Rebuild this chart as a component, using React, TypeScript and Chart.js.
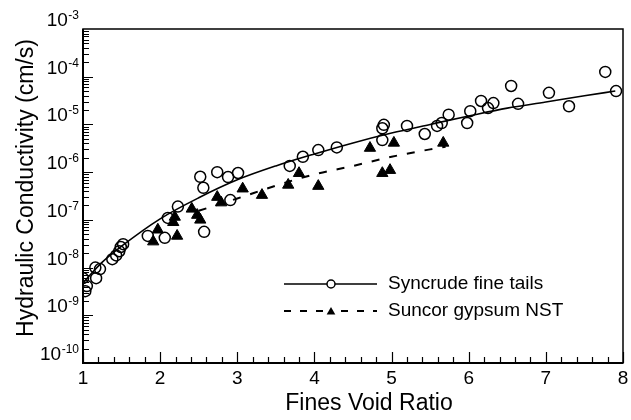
import React, { useEffect, useRef } from "react";
import { Chart, registerables } from "chart.js";

Chart.register(...registerables);

// Syncrude fine tails: measured points
const syncrudeVoidRatio = [
  1.0, 1.05, 1.03, 1.17, 1.16, 1.22, 1.38, 1.43, 1.47, 1.49, 1.52,
  1.84, 2.06, 2.1, 2.23, 2.57, 2.52, 2.56, 2.74, 2.88, 3.01, 2.91,
  3.68, 3.85, 4.05, 4.29, 4.88, 4.9, 4.88, 5.2, 5.43, 5.59, 5.65, 5.74,
  5.98, 6.02, 6.16, 6.25, 6.32, 6.55, 6.64, 7.04, 7.3, 7.77, 7.91,
];
const syncrudeConductivity = [
  6.0e-9, 4.1e-9, 3.2e-9, 6.0e-9, 1.0e-8, 9.3e-9, 1.5e-8, 1.8e-8, 2.2e-8, 2.7e-8, 3.1e-8,
  4.6e-8, 4.2e-8, 1.1e-7, 1.9e-7, 5.6e-8, 8.0e-7, 4.7e-7, 1.0e-6, 7.9e-7, 9.6e-7, 2.6e-7,
  1.35e-6, 2.1e-6, 2.9e-6, 3.3e-6, 8.3e-6, 9.8e-6, 4.7e-6, 9.3e-6, 6.3e-6, 9.3e-6, 1.07e-5, 1.6e-5,
  1.07e-5, 1.9e-5, 3.1e-5, 2.2e-5, 2.8e-5, 6.4e-5, 2.7e-5, 4.6e-5, 2.4e-5, 1.26e-4, 5.0e-5,
];

// Suncor gypsum NST: measured points
const suncorVoidRatio = [
  1.91, 1.97, 2.22, 2.17, 2.19, 2.41, 2.48, 2.52, 2.74, 2.79,
  3.07, 3.32, 3.66, 3.8, 4.05, 4.72, 4.88, 4.98, 5.03, 5.67,
];
const suncorConductivity = [
  3.5e-8, 6.2e-8, 4.6e-8, 8.9e-8, 1.15e-7, 1.7e-7, 1.26e-7, 1.0e-7, 3.0e-7, 2.3e-7,
  4.5e-7, 3.3e-7, 5.4e-7, 9.5e-7, 5.1e-7, 3.2e-6, 9.5e-7, 1.1e-6, 4.1e-6, 4.1e-6,
];

// Trend curves
const syncrudeFitVoidRatio = [1.0, 1.25, 1.5, 2.0, 2.5, 3.0, 3.5, 4.0, 4.5, 5.0, 5.5, 6.0, 6.5, 7.0, 7.5, 7.9];
const syncrudeFitConductivity = [
  4.8e-9, 1.3e-8, 2.8e-8, 1.05e-7, 2.9e-7, 6.9e-7, 1.35e-6, 2.4e-6,
  4.1e-6, 6.6e-6, 1.0e-5, 1.5e-5, 2.2e-5, 2.95e-5, 4.0e-5, 5.0e-5,
];
const suncorFitVoidRatio = [2.5, 3.0, 3.5, 4.0, 4.5, 5.0, 5.5, 5.7];
const suncorFitConductivity = [1.55e-7, 2.8e-7, 5.2e-7, 9.0e-7, 1.35e-6, 2.1e-6, 3.0e-6, 3.4e-6];

// Axis ticks
const xTickLabels = [1, 2, 3, 4, 5, 6, 7, 8];
const yDecadeExponents = [-10, -9, -8, -7, -6, -5, -4, -3];

const seriesNames = ["Syncrude fine tails", "Suncor gypsum NST"];
const axisTitles = { x: "Fines Void Ratio", y: "Hydraulic Conductivity (cm/s)" };

const FONT = '"Liberation Sans", Arial, Helvetica, sans-serif';

const toPoints = (xs: number[], ys: number[]) => xs.map((x, i) => ({ x, y: ys[i] }));

function drawTriangle(ctx: CanvasRenderingContext2D, cx: number, cy: number, r: number) {
  ctx.beginPath();
  for (let k = 0; k < 3; k++) {
    const a = (k * 2 * Math.PI) / 3;
    const px = cx + Math.sin(a) * r;
    const py = cy - Math.cos(a) * r;
    if (k === 0) ctx.moveTo(px, py);
    else ctx.lineTo(px, py);
  }
  ctx.closePath();
  ctx.fill();
}

const axesDecor = {
  id: "axesDecor",
  afterDraw(chart: any) {
    const { ctx, chartArea: a, scales } = chart;
    const xs = scales.x;
    const ys = scales.y;
    ctx.save();
    ctx.strokeStyle = "#000";
    ctx.fillStyle = "#000";

    // frame
    ctx.lineWidth = 1.5;
    ctx.strokeRect(a.left, a.top, a.right - a.left, a.bottom - a.top);
    ctx.lineWidth = 2;
    ctx.beginPath();
    ctx.moveTo(a.left, a.top);
    ctx.lineTo(a.left, a.bottom);
    ctx.lineTo(a.right, a.bottom);
    ctx.stroke();

    // y ticks (inward, logarithmic minors)
    ctx.lineWidth = 1.2;
    ctx.beginPath();
    for (let i = 0; i < yDecadeExponents.length - 1; i++) {
      const e = yDecadeExponents[i];
      for (let m = 1; m <= 9; m++) {
        const py = Math.round(ys.getPixelForValue(m * Math.pow(10, e))) + 0.5;
        const len = m === 1 ? 10 : 6;
        ctx.moveTo(a.left, py);
        ctx.lineTo(a.left + len, py);
      }
    }
    ctx.stroke();

    // x ticks (inward)
    ctx.beginPath();
    const xMin = xTickLabels[0];
    const xMax = xTickLabels[xTickLabels.length - 1];
    const steps = Math.round((xMax - xMin) / 0.2);
    for (let i = 0; i <= steps; i++) {
      const v = xMin + i * 0.2;
      const px = Math.round(xs.getPixelForValue(v)) + 0.5;
      const len = i % 5 === 0 ? 11 : 6;
      ctx.moveTo(px, a.bottom);
      ctx.lineTo(px, a.bottom - len);
    }
    ctx.stroke();

    // y tick labels: 10 with superscript exponent
    const labelRight = 79;
    for (const e of yDecadeExponents) {
      const py = ys.getPixelForValue(Math.pow(10, e));
      const exp = String(e);
      ctx.font = `12px ${FONT}`;
      ctx.textAlign = "right";
      ctx.textBaseline = "alphabetic";
      const ew = ctx.measureText(exp).width;
      ctx.fillText(exp, labelRight, py - 10);
      ctx.font = `19px ${FONT}`;
      ctx.fillText("10", labelRight - ew - 0.5, py - 3);
    }

    // x tick labels
    ctx.font = `19px ${FONT}`;
    ctx.textAlign = "center";
    ctx.textBaseline = "alphabetic";
    for (const v of xTickLabels) {
      ctx.fillText(String(v), xs.getPixelForValue(v), 384);
    }

    // axis titles
    ctx.font = `23px ${FONT}`;
    ctx.textAlign = "center";
    ctx.fillText(axisTitles.x, 369, 410);
    ctx.save();
    ctx.translate(33, 188);
    ctx.rotate(-Math.PI / 2);
    ctx.fillText(axisTitles.y, 0, 0);
    ctx.restore();

    // legend
    const lx0 = 284;
    const lx1 = 377;
    const lmid = 331;
    const row1 = 284;
    const row2 = 311;
    ctx.lineWidth = 1.5;
    ctx.beginPath();
    ctx.moveTo(lx0, row1);
    ctx.lineTo(lmid - 4, row1);
    ctx.moveTo(lmid + 4, row1);
    ctx.lineTo(lx1, row1);
    ctx.stroke();
    ctx.beginPath();
    ctx.arc(lmid, row1, 4, 0, Math.PI * 2);
    ctx.stroke();

    ctx.lineWidth = 2;
    ctx.setLineDash([7, 9]);
    ctx.beginPath();
    ctx.moveTo(lx0, row2);
    ctx.lineTo(lmid - 8, row2);
    ctx.moveTo(lmid + 10, row2);
    ctx.lineTo(lx1, row2);
    ctx.stroke();
    ctx.setLineDash([]);
    drawTriangle(ctx, lmid, row2 + 1, 5);

    ctx.font = `19px ${FONT}`;
    ctx.textAlign = "left";
    ctx.textBaseline = "middle";
    ctx.fillText(seriesNames[0], 388, row1);
    ctx.fillText(seriesNames[1], 388, row2);

    ctx.restore();
  },
};

export default function App() {
  const canvasRef = useRef<HTMLCanvasElement | null>(null);

  useEffect(() => {
    const canvas = canvasRef.current;
    if (!canvas) return;
    const chart = new Chart(canvas, {
      type: "scatter",
      data: {
        datasets: [
          {
            label: seriesNames[0] + " trend",
            data: toPoints(syncrudeFitVoidRatio, syncrudeFitConductivity),
            showLine: true,
            borderColor: "#000",
            borderWidth: 1.6,
            pointRadius: 0,
            cubicInterpolationMode: "monotone",
          },
          {
            label: seriesNames[1] + " trend",
            data: toPoints(suncorFitVoidRatio, suncorFitConductivity),
            showLine: true,
            borderColor: "#000",
            borderWidth: 2,
            borderDash: [8, 10],
            pointRadius: 0,
            cubicInterpolationMode: "monotone",
          },
          {
            label: seriesNames[0],
            data: toPoints(syncrudeVoidRatio, syncrudeConductivity),
            pointStyle: "circle",
            pointRadius: 5.5,
            borderColor: "#000",
            backgroundColor: "rgba(0,0,0,0)",
            borderWidth: 1.5,
          },
          {
            label: seriesNames[1],
            data: toPoints(suncorVoidRatio, suncorConductivity),
            pointStyle: "triangle",
            pointRadius: 6.5,
            borderColor: "#000",
            backgroundColor: "#000",
            borderWidth: 1,
          },
        ],
      },
      options: {
        animation: false,
        responsive: false,
        devicePixelRatio: 1,
        layout: { padding: { top: 29, right: 8, left: 0, bottom: 0 } },
        plugins: { legend: { display: false }, tooltip: { enabled: false } },
        scales: {
          x: {
            type: "linear",
            min: 1,
            max: 8,
            ticks: { display: false },
            grid: { display: false },
            border: { display: false },
            afterFit: (s: any) => {
              s.height = 57;
            },
          },
          y: {
            type: "logarithmic",
            min: 1e-10,
            max: 1e-3,
            ticks: { display: false },
            grid: { display: false },
            border: { display: false },
            afterFit: (s: any) => {
              s.width = 83;
            },
          },
        },
      },
      plugins: [axesDecor],
    });
    return () => chart.destroy();
  }, []);

  return (
    <div style={{ position: "fixed", left: 0, top: 0, width: 631, height: 420, background: "#fff" }}>
      <canvas ref={canvasRef} width={631} height={420} style={{ display: "block" }} />
    </div>
  );
}
